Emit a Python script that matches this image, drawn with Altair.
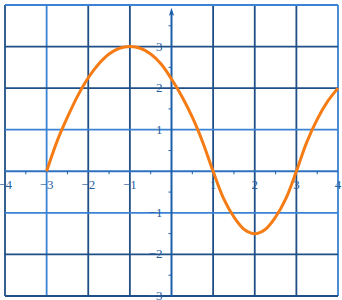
import altair as alt
import pandas as pd

# Curve values
curve_x = [-3, -2.75, -2.5, -2.25, -2, -1.75, -1.5, -1.25, -1, -0.75, -0.5, -0.25,
           0, 0.25, 0.5, 0.75, 1, 1.25, 1.5, 1.75, 2, 2.25, 2.5, 2.75, 3, 3.25, 3.5, 3.75, 4]
curve_y = [0, 0.72, 1.3, 1.82, 2.25, 2.58, 2.82, 2.96, 3.0, 2.96, 2.82, 2.58,
           2.22, 1.8, 1.3, 0.7, 0, -0.65, -1.1, -1.4, -1.5, -1.4, -1.1, -0.65, 0, 0.7, 1.25, 1.68, 2.0]

grid_x = [-4, -3, -2, -1, 1, 2, 3, 4]
grid_x_tone = ["dark", "light", "dark", "dark", "dark", "dark", "dark", "light"]
grid_y = [-3, -2, -1, 1, 2, 3, 4]
grid_y_tone = ["dark", "dark", "light", "light", "dark", "dark", "light"]

x_label_vals = [-4, -3, -2, -1, 1, 2, 3, 4]
x_labels = ["−4", "−3", "−2", "−1", "1", "2", "3", "4"]
y_label_vals = [3, 2, 1, -1, -2, -3]
y_labels = ["3", "2", "1", "−1", "−2", "−3"]
x_half = [-3.5, -2.5, -1.5, -0.5, 0.5, 1.5, 2.5, 3.5]
y_half = [3.5, 2.5, 1.5, 0.5, -0.5, -1.5, -2.5]

LIGHT = "#3a82d4"
DARK = "#1f4f86"
AXIS = "#1d5ea8"
LABEL = "#2a5f9e"
FONT = "Liberation Serif"

xs = alt.Scale(domain=[-4, 4], nice=False, zero=False)
ys = alt.Scale(domain=[-3, 4], nice=False, zero=False)

curve = pd.DataFrame({"x": curve_x, "y": curve_y})
gx = pd.DataFrame({"v": grid_x, "tone": grid_x_tone})
gy = pd.DataFrame({"v": grid_y, "tone": grid_y_tone})
xl = pd.DataFrame({"v": x_label_vals, "t": x_labels, "z": 0})
yl = pd.DataFrame({"v": y_label_vals, "t": y_labels, "z": 0})
xh = pd.DataFrame({"v": x_half, "z": 0})
yh = pd.DataFrame({"v": y_half, "z": 0})

tone_scale = alt.Scale(domain=["light", "dark"], range=[LIGHT, DARK])

vgrid = alt.Chart(gx).mark_rule(strokeWidth=1.8).encode(
    x=alt.X("v:Q", scale=xs, axis=None),
    color=alt.Color("tone:N", scale=tone_scale, legend=None),
)
hgrid = alt.Chart(gy).mark_rule(strokeWidth=1.8).encode(
    y=alt.Y("v:Q", scale=ys, axis=None),
    color=alt.Color("tone:N", scale=tone_scale, legend=None),
)

xaxis = alt.Chart(pd.DataFrame({"z": [0]})).mark_rule(color="#2f72c2", strokeWidth=2).encode(
    y=alt.Y("z:Q", scale=ys, axis=None))
yaxis = alt.Chart(pd.DataFrame({"z": [0], "a": [-3], "b": [3.8]})).mark_rule(
    color=AXIS, strokeWidth=2).encode(
    x=alt.X("z:Q", scale=xs, axis=None),
    y=alt.Y("a:Q", scale=ys, axis=None), y2="b:Q")

arrow = alt.Chart(pd.DataFrame({"x": [0], "y": [3.82]})).mark_point(
    shape="M0,-1L0.55,0.7L0,0.3L-0.55,0.7Z", filled=True, size=90,
    color=AXIS, opacity=1
).encode(x=alt.X("x:Q", scale=xs, axis=None), y=alt.Y("y:Q", scale=ys, axis=None))

xticks = alt.Chart(xh).mark_rule(color=AXIS, strokeWidth=1, y2Offset=3).encode(
    x=alt.X("v:Q", scale=xs, axis=None), y=alt.Y("z:Q", scale=ys, axis=None), y2="z:Q")
yticks = alt.Chart(yh).mark_rule(color=AXIS, strokeWidth=1, xOffset=-3).encode(
    y=alt.Y("v:Q", scale=ys, axis=None), x=alt.X("z:Q", scale=xs, axis=None), x2="z:Q")

xlab = alt.Chart(xl).mark_text(font=FONT, fontSize=13, color=LABEL, baseline="middle",
                               align="center", dy=14).encode(
    x=alt.X("v:Q", scale=xs, axis=None), y=alt.Y("z:Q", scale=ys, axis=None), text="t:N")
ylab = alt.Chart(yl).mark_text(font=FONT, fontSize=13, color=LABEL, baseline="middle",
                               align="right", dx=-9).encode(
    y=alt.Y("v:Q", scale=ys, axis=None), x=alt.X("z:Q", scale=xs, axis=None), text="t:N")

line = alt.Chart(curve).mark_line(color="#f57c14", strokeWidth=3, interpolate="catmull-rom").encode(
    x=alt.X("x:Q", scale=xs, axis=None), y=alt.Y("y:Q", scale=ys, axis=None))

chart = alt.layer(vgrid, hgrid, xaxis, yaxis, xticks, yticks, arrow, xlab, ylab, line).properties(
    width=333, height=291,
    autosize="none",
    padding={"left": 5, "top": 5, "right": 4, "bottom": 4},
    background="white",
).configure_view(stroke=None)

chart.save("out.html", embed_options={"renderer": "svg", "actions": False})
